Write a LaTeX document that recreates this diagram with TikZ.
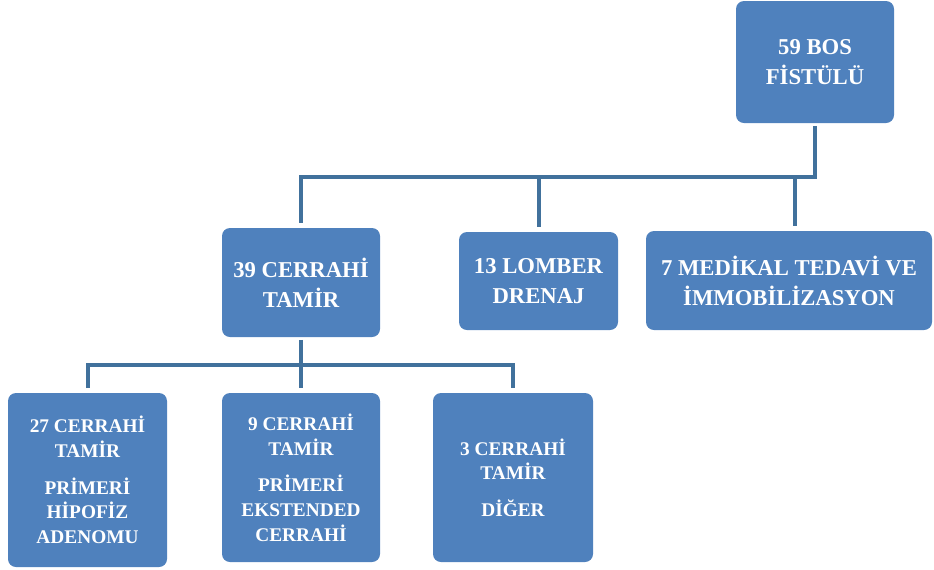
\documentclass[tikz,border=0pt]{standalone}
\usepackage{fontspec}
\setmainfont{Liberation Serif}
\definecolor{boxblue}{HTML}{4F81BD}
\definecolor{lineblue}{HTML}{41719C}
\begin{document}
\begin{tikzpicture}[x=0.75pt,y=-0.75pt,
  box/.style={fill=boxblue, rounded corners=6pt, text=white, align=center, inner sep=0pt,
    font=\bfseries\fontsize{17}{22.5}\selectfont},
  small/.style={font=\bfseries\fontsize{14.5}{18.5}\selectfont},
  sz/.style 2 args={minimum width=#1*0.75pt, minimum height=#2*0.75pt},
  conn/.style={draw=lineblue, line width=3pt},
  tobox/.style={shorten >=3.5pt}]
\useasboundingbox (0,0) rectangle (934,569);
\node[box, sz={158}{122}] (top) at (815,62) {59 BOS\\FİSTÜLÜ};
\node[box, sz={158}{109}] (c1) at (301,282.5) {39 CERRAHİ\\TAMİR};
\node[box, sz={159}{98}] (c2) at (538.5,281) {13 LOMBER\\DRENAJ};
\node[box, sz={286}{99}] (c3) at (789,280.5) {7 MEDİKAL TEDAVİ VE\\İMMOBİLİZASYON};
\node[box, small, sz={159}{174}] (b1) at (87.5,480) {27 CERRAHİ\\TAMİR\\[9pt]PRİMERİ\\HİPOFİZ\\ADENOMU};
\node[box, small, sz={158}{169}] (b2) at (301,477.5) {9 CERRAHİ\\TAMİR\\[9pt]PRİMERİ\\EKSTENDED\\CERRAHİ};
\node[box, small, sz={160}{169}] (b3) at (513,477.5) {3 CERRAHİ\\TAMİR\\[9pt]DİĞER};
\coordinate (j1) at (815,177);
\coordinate (d3) at (795,177);
\coordinate (j2) at (301,365);
\draw[conn, tobox, shorten <=2pt] (top) -- (j1) -| (c1);
\draw[conn, tobox] (c2 |- j1) -- (c2);
\draw[conn, tobox] (d3) -- (d3 |- c3.north);
\draw[conn, shorten <=2pt] (c1) -- (j2);
\draw[conn, tobox] (j2) -- (b2);
\draw[conn, shorten <=3.5pt, shorten >=3.5pt] (b1) |- (j2) -| (b3);
\end{tikzpicture}
\end{document}
